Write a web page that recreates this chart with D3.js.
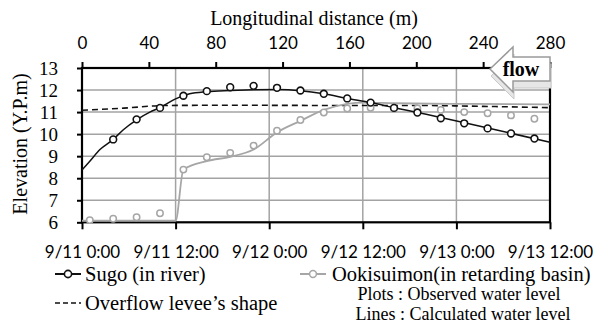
<!DOCTYPE html>
<html>
<head>
<meta charset="utf-8">
<script src="https://cdn.jsdelivr.net/npm/d3@7"></script>
<style>
  body { margin: 0; background: #fff; }
  svg { display: block; }
</style>
</head>
<body>
<svg width="597" height="326"></svg>
<script>
// hours since 9/11 0:00
var timeTicks = [0, 12, 24, 36, 48, 60];
var timeLabels = ['9/11 0:00', '9/11 12:00', '9/12 0:00', '9/12 12:00', '9/13 0:00', '9/13 12:00'];
var distTicks = [0, 40, 80, 120, 160, 200, 240, 280];
var elevTicks = [6, 7, 8, 9, 10, 11, 12, 13];

// observed (plots)
var sugoObsHours = [4, 7, 10, 13, 16, 19, 22, 25, 28, 31, 34, 37, 40, 43, 46, 49, 52, 55, 58];
var sugoObs = [9.76, 10.67, 11.19, 11.74, 11.95, 12.13, 12.19, 12.1, 11.98, 11.83, 11.62, 11.43, 11.19, 10.98, 10.72, 10.49, 10.26, 10.03, 9.8];
var ookiObsHours = [1, 4, 7, 10, 13, 16, 19, 22, 25, 28, 31, 34, 37, 40, 43, 46, 49, 52, 55, 58];
var ookiObs = [6.1, 6.16, 6.23, 6.41, 8.39, 8.95, 9.15, 9.48, 10.15, 10.64, 10.98, 11.16, 11.2, 11.16, 11.16, 11.1, 11.0, 10.95, 10.85, 10.7];

// calculated (lines)
var sugoCalcHours = [0, 1, 2.3, 4, 5.3, 7, 8.7, 10, 12, 13.8, 16, 19, 22, 25, 28, 31, 34, 37, 40, 43, 60];
var sugoCalc = [8.37, 8.77, 9.3, 9.76, 10.2, 10.65, 11.0, 11.2, 11.6, 11.83, 11.93, 11.98, 12.01, 12.02, 11.97, 11.83, 11.62, 11.43, 11.2, 10.98, 9.63];
var ookiCalcHours = [0, 12, 13, 16, 19, 22, 25, 28, 31, 34, 36, 40, 50, 60];
var ookiCalc = [6.07, 6.07, 8.39, 8.78, 8.97, 9.3, 10.08, 10.6, 11.1, 11.37, 11.43, 11.4, 11.37, 11.35];

// overflow levee's shape, by distance (m)
var leveeDist = [0, 25, 50, 90, 150, 200, 240, 280];
var leveeElev = [11.08, 11.18, 11.3, 11.31, 11.3, 11.3, 11.26, 11.2];

var svg = d3.select('svg');
var pLeft = 82, pRight = 550, pTop = 68, pBottom = 222.3;
var serif = '"Liberation Serif", "Times New Roman", serif';
var sans = 'Lato, "Open Sans", sans-serif';

var x = d3.scaleLinear().domain([0, 60]).range([pLeft, pRight]);
var xd = d3.scaleLinear().domain([0, 280]).range([pLeft, pRight]);
var y = d3.scaleLinear().domain([6, 13]).range([pBottom, pTop]);

// grid
svg.append('g')
  .selectAll('line')
  .data(elevTicks.slice(1, -1))
  .enter()
  .append('line')
  .attr('x1', pLeft).attr('x2', pRight)
  .attr('y1', function(d) { return y(d); })
  .attr('y2', function(d) { return y(d); })
  .style('stroke', '#a3a3a3')
  .style('stroke-width', 1.5);

svg.append('g')
  .selectAll('line')
  .data(timeTicks.slice(1, -1))
  .enter()
  .append('line')
  .attr('y1', pTop).attr('y2', pBottom)
  .attr('x1', function(d) { return x(d); })
  .attr('x2', function(d) { return x(d); })
  .style('stroke', '#a3a3a3')
  .style('stroke-width', 1.5);

// axes
var yAxis = d3.axisLeft(y).tickValues(elevTicks).tickSize(5).tickPadding(19).tickFormat(d3.format('d'));
var gy = svg.append('g').attr('transform', 'translate(' + pLeft + ',0)').call(yAxis);
gy.attr('font-family', serif).attr('font-size', 19);
gy.selectAll('text').attr('dy', '0.34em');

var xAxis = d3.axisBottom(x).tickValues(timeTicks).tickSize(7).tickFormat(function(d, i) { return timeLabels[i]; });
var gx = svg.append('g').attr('transform', 'translate(0,' + pBottom + ')').call(xAxis);
gx.attr('font-family', sans).attr('font-size', 17);
gx.selectAll('text').attr('y', 36).attr('dy', 0);

var topAxis = d3.axisTop(xd).tickValues(distTicks).tickSize(6).tickPadding(13);
var gt = svg.append('g').attr('transform', 'translate(0,' + pTop + ')').call(topAxis);
gt.attr('font-family', sans).attr('font-size', 17);

svg.selectAll('.tick line').style('stroke', '#000').style('stroke-width', 2);
svg.selectAll('.tick text').style('fill', '#000');
svg.selectAll('.domain').remove();

// frame
svg.append('rect')
  .attr('x', pLeft).attr('y', pTop)
  .attr('width', pRight - pLeft).attr('height', pBottom - pTop)
  .style('fill', 'none').style('stroke', '#000').style('stroke-width', 2.2);

// lines
var lineT = d3.line().curve(d3.curveMonotoneX);

svg.append('path')
  .attr('d', lineT(leveeDist.map(function(d, i) { return [xd(d), y(leveeElev[i])]; })))
  .style('fill', 'none').style('stroke', '#111').style('stroke-width', 1.6)
  .style('stroke-dasharray', '6,4');

svg.append('path')
  .attr('d', lineT(ookiCalcHours.map(function(d, i) { return [x(d), y(ookiCalc[i])]; })))
  .style('fill', 'none').style('stroke', '#a6a6a6').style('stroke-width', 1.8);

svg.append('path')
  .attr('d', lineT(sugoCalcHours.map(function(d, i) { return [x(d), y(sugoCalc[i])]; })))
  .style('fill', 'none').style('stroke', '#111').style('stroke-width', 1.5);

// observed plots
svg.append('g')
  .selectAll('circle')
  .data(ookiObsHours)
  .enter()
  .append('circle')
  .attr('cx', function(d) { return x(d); })
  .attr('cy', function(d, i) { return y(ookiObs[i]); })
  .attr('r', 3.2)
  .style('fill', '#fff').style('stroke', '#a6a6a6').style('stroke-width', 1.5);

svg.append('g')
  .selectAll('circle')
  .data(sugoObsHours)
  .enter()
  .append('circle')
  .attr('cx', function(d) { return x(d); })
  .attr('cy', function(d, i) { return y(sugoObs[i]); })
  .attr('r', 3.4)
  .style('fill', '#fff').style('stroke', '#111').style('stroke-width', 1.6);

// flow arrow
var arrow = [[490, 69], [513, 47], [513, 57], [550, 57], [550, 81], [513, 81], [513, 92]];
svg.append('polygon')
  .attr('points', arrow.map(function(p) { return (p[0] + 1) + ',' + (p[1] + 7); }).join(' '))
  .style('fill', '#e6e6e6').style('stroke', '#c8c8c8').style('stroke-width', 1);
svg.append('polygon')
  .attr('points', arrow.map(function(p) { return p.join(','); }).join(' '))
  .style('fill', '#fff').style('stroke', '#9a9a9a').style('stroke-width', 1.5);
svg.append('text')
  .attr('x', 521).attr('y', 76)
  .attr('text-anchor', 'middle')
  .style('font-family', serif).style('font-weight', 'bold').style('font-size', '20px')
  .text('flow');

// titles
svg.append('text')
  .attr('x', 314).attr('y', 25)
  .attr('text-anchor', 'middle')
  .style('font-family', serif).style('font-size', '20px')
  .text('Longitudinal distance (m)');

svg.append('text')
  .attr('transform', 'translate(27,144) rotate(-90)')
  .attr('text-anchor', 'middle')
  .style('font-family', serif).style('font-size', '20px')
  .text('Elevation (Y.P.m)');

// legend
var leg = svg.append('g').style('font-family', serif).style('font-size', '20.5px');
leg.append('line').attr('x1', 55).attr('x2', 81).attr('y1', 274).attr('y2', 274)
  .style('stroke', '#111').style('stroke-width', 2);
leg.append('circle').attr('cx', 68).attr('cy', 274).attr('r', 3.6)
  .style('fill', '#fff').style('stroke', '#111').style('stroke-width', 1.6);
leg.append('text').attr('x', 85).attr('y', 281).text('Sugo (in river)');

leg.append('line').attr('x1', 300).attr('x2', 326).attr('y1', 274).attr('y2', 274)
  .style('stroke', '#a6a6a6').style('stroke-width', 2);
leg.append('circle').attr('cx', 313).attr('cy', 274).attr('r', 3.4)
  .style('fill', '#fff').style('stroke', '#a6a6a6').style('stroke-width', 1.5);
leg.append('text').attr('x', 332).attr('y', 281).text('Ookisuimon(in retarding basin)');

leg.append('line').attr('x1', 55).attr('x2', 81).attr('y1', 303).attr('y2', 303)
  .style('stroke', '#111').style('stroke-width', 1.6).style('stroke-dasharray', '5,3');
leg.append('text').attr('x', 85).attr('y', 310).text('Overflow levee\u2019s shape');

leg.append('text').attr('x', 459).attr('y', 299.5).attr('text-anchor', 'middle')
  .style('font-size', '18px').text('Plots : Observed water level');
leg.append('text').attr('x', 463).attr('y', 319.5).attr('text-anchor', 'middle')
  .style('font-size', '18px').text('Lines : Calculated water level');
</script>
</body>
</html>
